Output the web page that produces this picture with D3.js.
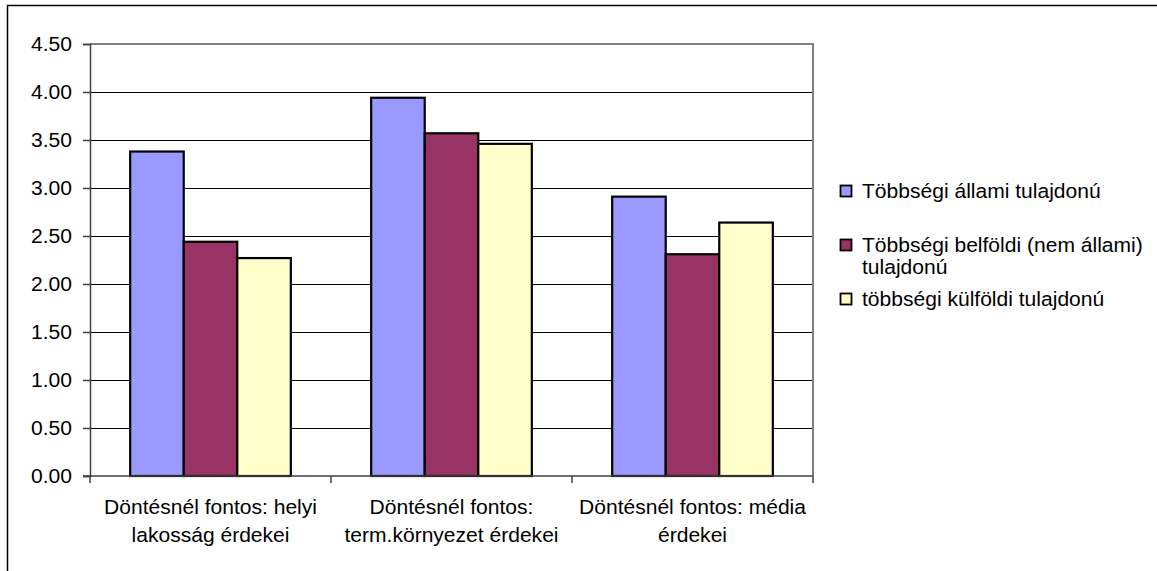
<!DOCTYPE html>
<html>
<head>
<meta charset="utf-8">
<script src="https://cdn.jsdelivr.net/npm/d3@7"></script>
<style>
  html, body { margin: 0; padding: 0; background: #fff; }
  svg { display: block; }
  text { font-family: "Liberation Sans", Arial, sans-serif; fill: #000; }
</style>
</head>
<body>
<svg id="chart" width="1157" height="571"></svg>
<script>
const categories = [
  ["Döntésnél fontos: helyi", "lakosság érdekei"],
  ["Döntésnél fontos:", "term.környezet érdekei"],
  ["Döntésnél fontos: média", "érdekei"]
];
const seriesNames = [
  ["Többségi állami tulajdonú"],
  ["Többségi belföldi (nem állami)", "tulajdonú"],
  ["többségi külföldi tulajdonú"]
];
const seriesColors = ["#9999FF", "#993366", "#FFFFCC"];
const allami = [3.38, 3.94, 2.91];
const belfoldi = [2.44, 3.57, 2.31];
const kulfoldi = [2.27, 3.46, 2.64];
const yTicks = [0, 0.5, 1, 1.5, 2, 2.5, 3, 3.5, 4, 4.5];

const values = [allami, belfoldi, kulfoldi];
const FS = 19.5, SX = 1.08;

const svg = d3.select("#chart");
const L = 90, R = 813, T = 44, B = 476;

// outer chart border (top & left visible)
svg.append("path").attr("d", "M7.5,580 V5.5 H1170")
  .attr("fill", "none").attr("stroke", "#000").attr("stroke-width", 1.5);

const catIdx = d3.range(categories.length);
const x0 = d3.scaleBand().domain(catIdx).range([L, R]).paddingInner(1/3).paddingOuter(1/6);
const x1 = d3.scaleBand().domain(d3.range(values.length)).range([0, x0.bandwidth()]);
const y = d3.scaleLinear().domain([0, 4.5]).range([B, T]);

// gridlines
svg.append("g").selectAll("line").data(yTicks.filter(t => t > 0 && t < 4.5)).join("line")
  .attr("x1", L).attr("x2", R)
  .attr("y1", d => Math.round(y(d)) + 0.5).attr("y2", d => Math.round(y(d)) + 0.5)
  .attr("stroke", "#000").attr("stroke-width", 1);

// plot area border top/right (grey)
svg.append("path").attr("d", `M${L},${y(4.5)} H${R} V${B}`)
  .attr("fill", "none").attr("stroke", "#808080").attr("stroke-width", 2);

// bars
const g = svg.append("g");
catIdx.forEach(ci => {
  values.forEach((s, si) => {
    g.append("rect")
      .attr("x", x0(ci) + x1(si))
      .attr("y", y(s[ci]))
      .attr("width", x1.bandwidth())
      .attr("height", y(0) - y(s[ci]))
      .attr("fill", seriesColors[si])
      .attr("stroke", "#000").attr("stroke-width", 2.2);
  });
});

// y axis
const yAxis = d3.axisLeft(y).tickValues(yTicks).tickSize(7).tickPadding(10).tickFormat(d3.format(".2f"));
const ya = svg.append("g").attr("transform", `translate(${L},0)`).call(yAxis);
ya.select(".domain").attr("stroke", "#404040").attr("stroke-width", 1.5);
ya.selectAll(".tick line").attr("stroke", "#404040").attr("stroke-width", 1.5);
ya.selectAll(".tick text").remove();
yTicks.forEach(t => {
  svg.append("text")
    .attr("transform", `translate(72,${y(t) + 7}) scale(${SX},1)`)
    .attr("text-anchor", "end").attr("font-size", FS).text(d3.format(".2f")(t));
});

// x axis
const xEdges = catIdx.map(i => x0(i) - x0.step() * x0.paddingOuter()).concat([R]);
svg.append("line").attr("x1", L - 7).attr("x2", R).attr("y1", B).attr("y2", B)
  .attr("stroke", "#404040").attr("stroke-width", 1.5);
svg.append("g").selectAll("line").data(xEdges).join("line")
  .attr("x1", d => d).attr("x2", d => d).attr("y1", B).attr("y2", B + 7)
  .attr("stroke", "#404040").attr("stroke-width", 1.5);

catIdx.forEach(ci => {
  const cx = x0(ci) + x0.bandwidth() / 2;
  categories[ci].forEach((line, li) => {
    svg.append("text")
      .attr("transform", `translate(${cx},${514 + li * 28}) scale(${SX},1)`)
      .attr("text-anchor", "middle").attr("font-size", FS).text(line);
  });
});

// legend
const legendY = [191, 245, 299];
seriesNames.forEach((lines, si) => {
  svg.append("rect").attr("x", 840.5).attr("y", legendY[si] - 5.5).attr("width", 11).attr("height", 11)
    .attr("fill", seriesColors[si]).attr("stroke", "#000").attr("stroke-width", 1.8);
  lines.forEach((line, li) => {
    svg.append("text")
      .attr("transform", `translate(862,${legendY[si] + 7 + li * 22}) scale(${SX},1)`)
      .attr("font-size", FS).text(line);
  });
});
</script>
</body>
</html>
